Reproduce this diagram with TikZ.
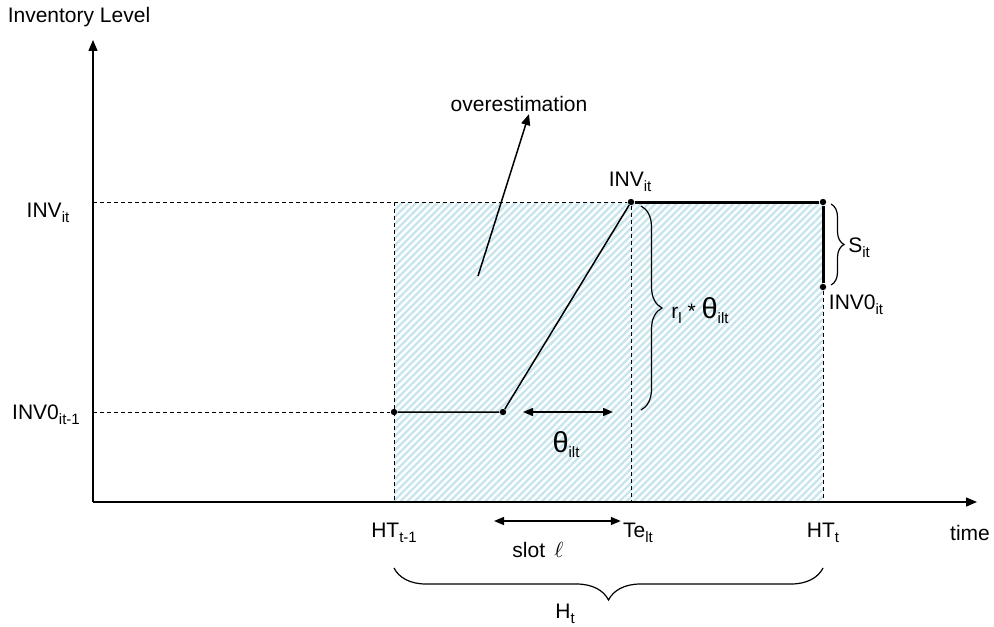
\documentclass[tikz,border=0pt]{standalone}
\usepackage{fontspec}
\setmainfont{Liberation Sans}
\usetikzlibrary{positioning,arrows.meta,patterns.meta,decorations.pathreplacing}
\definecolor{hatchblue}{RGB}{198,229,236}
\newcommand{\sbs}[1]{\raisebox{-0.45ex}{\fontsize{7.5}{8}\selectfont #1}}
\newcommand{\thet}{{\fontsize{14.5}{14}\selectfont θ}}

\begin{document}
\begin{tikzpicture}[x=0.5pt,y=-0.5pt,font=\fontsize{10.5}{12}\selectfont,
      lbl/.style={inner sep=1pt},
      dot/.style={circle,fill,inner sep=0pt,minimum size=3.2pt},
      arr/.style={-{Triangle[length=5.5pt,width=4.5pt]},line width=0.75pt},
      twoway/.style={{Triangle[length=5pt,width=4pt]}-{Triangle[length=5pt,width=4pt]},line width=0.75pt},
      guide/.style={line width=0.5pt,dash pattern=on 2pt off 1.5pt},
      brc/.style={decorate,decoration={brace,amplitude=#1},line width=0.6pt}]
    \useasboundingbox (0,0) rectangle (994,626);
    % hatched horizon H_t
    \fill[white] (394,202) rectangle (823,502);
    \fill[pattern={Lines[angle=45,distance=2.5pt,line width=1.15pt]},pattern color=hatchblue] (394,202) rectangle (823,502);
    % axes
    \coordinate (O) at (93,502);
    \coordinate (ytop) at (93,40);
    \coordinate (xend) at (977,502);
    \draw[arr] (O) -- (ytop);
    \draw[arr] (O) -- (xend);
    \node[lbl] (ylab) at (79,17) {Inventory Level};
    \node[lbl] (xlab) at (970,533) {time};
    % inventory profile
    \node[dot] (P0) at (394,412) {};
    \node[dot] (P1) at (503,412) {};
    \node[dot] (P2) at (631,202) {};
    \node[dot] (P3) at (823,202) {};
    \node[dot] (P4) at (823,287) {};
    \coordinate (yInv) at (93,202);
    \coordinate (yInvz) at (93,412);
    \coordinate (HTaTop) at (394,202);
    \coordinate (HTa) at (394,502);
    \coordinate (Te) at (631,502);
    \coordinate (HTb) at (823,502);
    \draw[guide] (yInv) -- (P2);
    \draw[guide] (yInvz) -- (P0);
    \draw[guide] (HTaTop) -- (HTa);
    \draw[guide] (P2) -- (Te);
    \draw[guide] (P4) -- (HTb);
    \draw[line width=0.75pt] (P0) -- (P1) -- (P2);
    \draw[line width=1.5pt] (P2) -- (P3) -- (P4);
    % level labels
    \node[lbl] (lInv) at (48,213) {INV\sbs{it}};
    \node[lbl] (lInvz) at (46,415) {INV0\sbs{it-1}};
    \node[lbl] (tInv) at (630,182) {INV\sbs{it}};
    \node[lbl] (tInvz) at (856,305) {INV0\sbs{it}};
    % production time theta
    \coordinate (thA) at (523,412);
    \coordinate (thB) at (613,412);
    \draw[twoway] (thA) -- (thB);
    \node[lbl] (lth) at (566,445) {\thet\sbs{ilt}};
    % braces
    \draw[brc=10.5pt] (641,206) -- (641,410);
    \node[lbl] (lrate) at (700,311) {r\sbs{l} * \thet\sbs{ilt}};
    \draw[brc=6.5pt] (831,204) -- (831,285);
    \node[lbl] (lS) at (859,248) {S\sbs{it}};
    % overestimation
    \node[lbl] (over) at (519,104) {overestimation};
    \coordinate (ovfoot) at (478,276);
    \draw[arr] (ovfoot) -- (over.south-|529,0);
    % time axis labels
    \node[lbl] (lHTa) at (394,533) {HT\sbs{t-1}};
    \node[lbl] (lTe) at (638,533) {Te\sbs{lt}};
    \node[lbl] (lHTb) at (823,533) {HT\sbs{t}};
    \coordinate (slA) at (494,521);
    \draw[twoway] (slA) -- (lTe.west|-slA);
    \node[lbl] (lslot) at (538,550) {slot \,$\ell$};
    \draw[brc=16pt] (823,568) -- (394,568);
    \node[lbl] (lH) at (565,614) {H\sbs{t}};
  \end{tikzpicture}
\end{document}
